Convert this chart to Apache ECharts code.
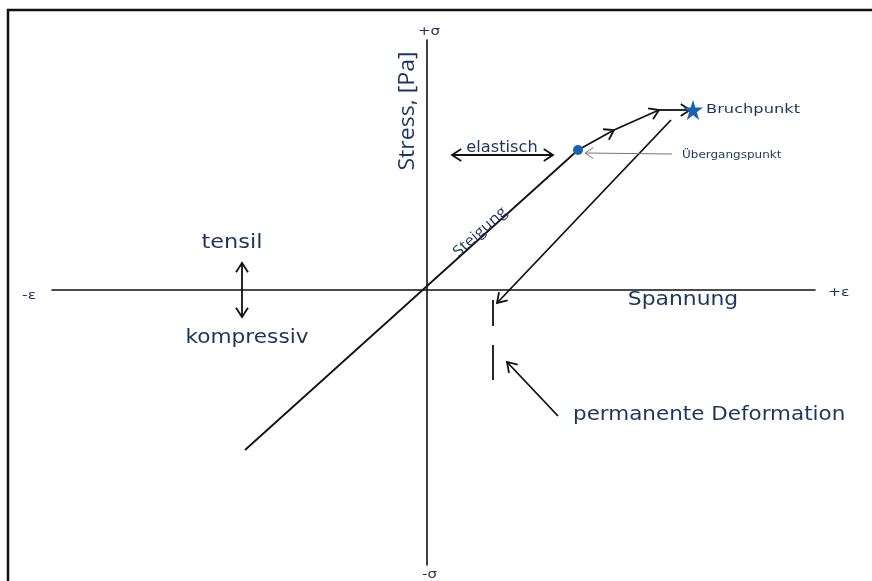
<!DOCTYPE html>
<html>
<head>
<meta charset="utf-8">
<script src="https://cdn.jsdelivr.net/npm/echarts@6/dist/echarts.min.js"></script>
<style>html,body{margin:0;padding:0;background:#fff}#c{width:872px;height:581px}</style>
</head>
<body>
<div id="c"></div>
<script>
// ---- data (strain / stress units, origin at 0,0) ----
const elasticLine = [[-1.82, -1.60], [1.51, 1.40]];
const plasticPath = [[1.51, 1.40], [1.87, 1.60], [2.32, 1.80], [2.63, 1.80]];
const unloadLine = [[2.44, 1.70], [0.70, -0.13]];
const permanentDash = [[0.66, -0.10, 0.66, -0.36], [0.66, -0.55, 0.66, -0.90]];
const deformationArrow = [1.31, -1.26, 0.80, -0.72];
const elasticRange = [0.25, 1.35, 1.26, 1.35];
const tensileArrow = [-1.85, 0.27, -1.85, -0.27];
const transitionArrow = [2.45, 1.36, 1.58, 1.37];
const transitionPoint = [1.51, 1.40];
const fracturePoint = [2.66, 1.80];

const labelTexts = ['+σ', '-σ', '-ε', '+ε', 'Stress, [Pa]', 'Spannung', 'tensil', 'kompressiv',
  'permanente Deformation', 'elastisch', 'Bruchpunkt', 'Übergangspunkt', 'Steigung'];
const labelAnchors = [[-0.09, 2.58], [-0.05, -2.85], [-4.05, -0.06], [4.01, -0.03], [-0.19, 1.79],
  [2.56, -0.10], [-1.95, 0.47], [-1.80, -0.48], [1.46, -1.25], [0.75, 1.42], [2.79, 1.80],
  [2.55, 1.35], [0.53, 0.58]];

// ---- styles ----
const TXT = '#1b355f';
const BLUE = '#1862b0';
const labelStyle = [
  {s: 13, rot: 0, a: 'left', k: 1.15}, {s: 13, rot: 0, a: 'left', k: 1.15},
  {s: 13, rot: 0, a: 'left', k: 1.2}, {s: 13, rot: 0, a: 'left', k: 1.2},
  {s: 21, rot: 90, a: 'center', f: 'Open Sans', k: 1.1}, {s: 19, rot: 0, a: 'center', k: 1.15},
  {s: 19, rot: 0, a: 'center', k: 1.18}, {s: 19, rot: 0, a: 'center', k: 1.14},
  {s: 19, rot: 0, a: 'left', k: 1.13}, {s: 15, rot: 0, a: 'center', k: 1.08},
  {s: 13, rot: 0, a: 'left', k: 1.25}, {s: 10, rot: 0, a: 'left', k: 1.2},
  {s: 15, rot: 42, a: 'center', f: 'Open Sans', k: 1.1}
];

function pairs(path) {
  const out = [];
  for (let i = 0; i < path.length - 1; i++) out.push([path[i][0], path[i][1], path[i + 1][0], path[i + 1][1]]);
  return out;
}

function makeArrowRender(heads, color, width, headLen) {
  return function (params, api) {
    const p1 = api.coord([api.value(0), api.value(1)]);
    const p2 = api.coord([api.value(2), api.value(3)]);
    const h = heads[params.dataIndex] || 0;
    const children = [{
      type: 'line', shape: {x1: p1[0], y1: p1[1], x2: p2[0], y2: p2[1]},
      style: {stroke: color, lineWidth: width}
    }];
    function head(tip, from) {
      const dx = from[0] - tip[0], dy = from[1] - tip[1];
      const L = Math.sqrt(dx * dx + dy * dy) || 1;
      const ux = dx / L, uy = dy / L;
      const a = 33 * Math.PI / 180;
      const c = Math.cos(a), s = Math.sin(a);
      const r1 = [tip[0] + headLen * (ux * c - uy * s), tip[1] + headLen * (ux * s + uy * c)];
      const r2 = [tip[0] + headLen * (ux * c + uy * s), tip[1] + headLen * (-ux * s + uy * c)];
      children.push({type: 'polyline', shape: {points: [r1, tip, r2]},
        style: {stroke: color, lineWidth: width, fill: null}});
    }
    if (h >= 1) head(p2, p1);
    if (h >= 2) head(p1, p2);
    return {type: 'group', children: children};
  };
}

const blackSegs = [
  [elasticLine[0][0], elasticLine[0][1], elasticLine[1][0], elasticLine[1][1]],
  ...pairs(plasticPath),
  [unloadLine[0][0], unloadLine[0][1], unloadLine[1][0], unloadLine[1][1]],
  deformationArrow, elasticRange, tensileArrow,
  ...permanentDash
];
const blackHeads = [0, 1, 1, 1, 1, 1, 2, 2, 0, 0];

const starPath = 'path://M50,0 L61.8,35.4 L100,35.4 L69.1,57.3 L80.9,93.5 L50,71.5 L19.1,93.5 L30.9,57.3 L0,35.4 L38.2,35.4 Z';

const chart = echarts.init(document.getElementById('c'), null, {renderer: 'canvas'});
chart.setOption({
  animation: false,
  backgroundColor: '#fff',
  grid: {left: 52, right: 57, top: 40, bottom: 16},
  xAxis: {
    type: 'value', min: -3.75, max: 3.88,
    axisLine: {show: true, onZero: true, lineStyle: {color: '#111', width: 1.6}},
    axisTick: {show: false}, axisLabel: {show: false}, splitLine: {show: false}
  },
  yAxis: {
    type: 'value', min: -2.75, max: 2.5,
    axisLine: {show: true, onZero: true, lineStyle: {color: '#111', width: 1.6}},
    axisTick: {show: false}, axisLabel: {show: false}, splitLine: {show: false}
  },
  graphic: [{
    type: 'polyline', silent: true,
    shape: {points: [[8, 581], [8, 10], [872, 10]]},
    style: {stroke: '#111', lineWidth: 2.5, fill: null}
  }],
  series: [
    {
      type: 'custom', clip: false, renderItem: makeArrowRender(blackHeads, '#111', 1.8, 11),
      data: blackSegs, z: 3
    },
    {
      type: 'custom', clip: false, renderItem: makeArrowRender([1], '#777', 1, 10),
      data: [transitionArrow], z: 3
    },
    {
      type: 'scatter', symbol: 'circle', symbolSize: 10, itemStyle: {color: BLUE, opacity: 1},
      data: [transitionPoint], z: 5
    },
    {
      type: 'scatter', symbol: starPath, symbolSize: 20, itemStyle: {color: BLUE, opacity: 1},
      data: [fracturePoint], z: 5
    },
    {
      type: 'custom', clip: false, z: 6,
      data: labelAnchors,
      renderItem: function (params, api) {
        const i = params.dataIndex;
        const st = labelStyle[i];
        const p = api.coord([api.value(0), api.value(1)]);
        return {
          type: 'text', x: p[0], y: p[1], rotation: st.rot * Math.PI / 180,
          scaleX: st.k || 1, scaleY: 1,
          style: {
            text: labelTexts[i], fill: st.c || TXT,
            font: st.s + 'px "' + (st.f || 'DejaVu Sans') + '"',
            textAlign: st.a, textVerticalAlign: 'middle'
          }
        };
      }
    }
  ]
});
</script>
</body>
</html>
